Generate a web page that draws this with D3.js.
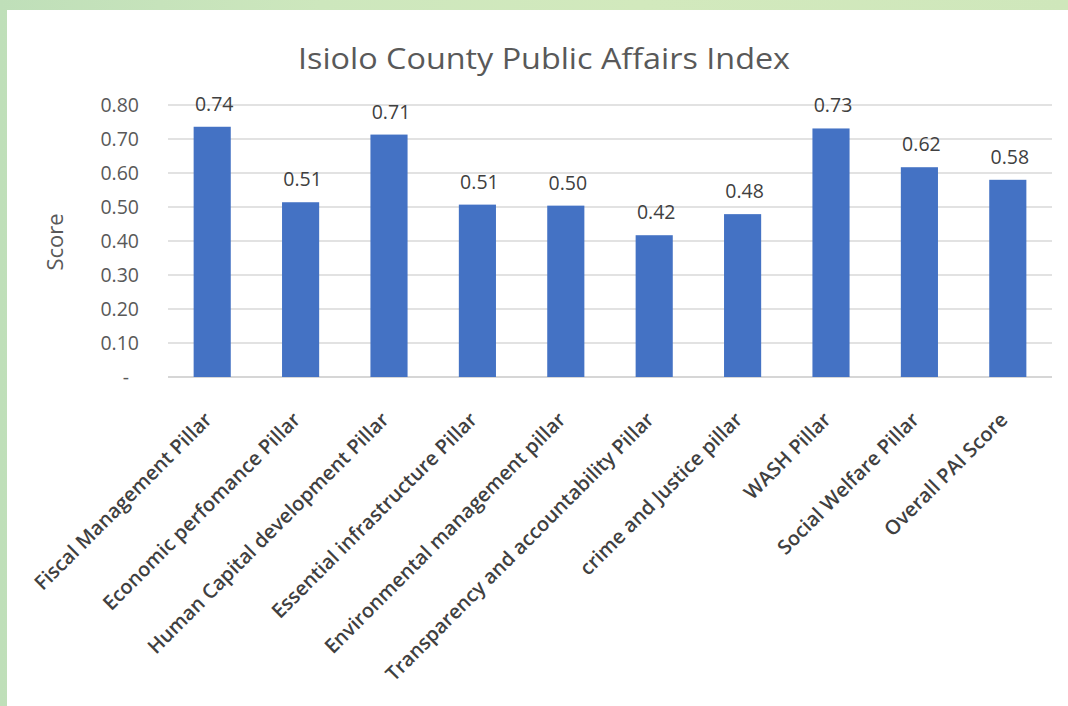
<!DOCTYPE html>
<html>
<head>
<meta charset="utf-8">
<script src="https://cdn.jsdelivr.net/npm/d3@7"></script>
<style>
	html, body { margin:0; padding:0; }
	body { width:1068px; height:706px; overflow:hidden;
		background: linear-gradient(90deg, #bfdfb9 0%, #cde7bd 30%, #d2e9bd 60%, #cfe7bb 100%); }
	svg { display:block; font-family:"Open Sans", sans-serif; }
</style>
</head>
<body>
<svg id="chart" width="1068" height="706"></svg>
<script>
(function(){

	// data
	var pillars = ["Fiscal Management Pillar", "Economic perfomance Pillar", "Human Capital development Pillar",
		"Essential infrastructure Pillar", "Environmental management pillar", "Transparency and accountability Pillar",
		"crime and Justice pillar", "WASH Pillar", "Social Welfare Pillar", "Overall PAI Score"];
	var scores = [0.736, 0.514, 0.713, 0.507, 0.504, 0.417, 0.479, 0.731, 0.617, 0.580];
	var yTicks = [0, 0.1, 0.2, 0.3, 0.4, 0.5, 0.6, 0.7, 0.8];

	var W = 1068, H = 706;
	var M = {left:168, right:16, top:105, bottom:329};

	var svg = d3.select("#chart");

	// white panel
	svg.append("rect").attr("x",7).attr("y",10).attr("width",W-7).attr("height",H-10).attr("fill","#ffffff");

	var x = d3.scaleBand().domain(pillars).range([M.left, W-M.right]).paddingInner(0.58).paddingOuter(0.29);
	var y = d3.scaleLinear().domain([0, 0.8]).range([H-M.bottom, M.top]);

	var fmt = d3.format(".2f");

	// gridlines
	svg.append("g").selectAll("line").data(yTicks).enter().append("line")
		.attr("x1", M.left).attr("x2", W-M.right)
		.attr("y1", function(d){return y(d)}).attr("y2", function(d){return y(d)})
		.attr("stroke", function(d){return d===0 ? "#c8c8c8" : "#d9d9d9"})
		.attr("stroke-width", 1.3);

	// y axis labels
	var yAxis = d3.axisLeft(y).tickValues(yTicks).tickSize(0).tickPadding(0)
		.tickFormat(function(d){return d===0 ? "-" : fmt(d)});
	var ya = svg.append("g").attr("transform","translate(139,0)").call(yAxis);
	ya.select(".domain").remove();
	ya.selectAll("text").attr("fill","#595959").style("font-size","19.5px").style("font-family","'Open Sans', sans-serif")
		.attr("dx", function(d){return d===0 ? "-10px" : 0});

	// bars
	svg.append("g").selectAll("rect").data(scores).enter().append("rect")
		.attr("x", function(d,i){return x(pillars[i])})
		.attr("width", x.bandwidth())
		.attr("y", function(d){return y(d)})
		.attr("height", function(d){return y(0)-y(d)})
		.attr("fill", "#4472c4");

	// value labels
	svg.append("g").selectAll("text").data(scores).enter().append("text")
		.attr("x", function(d,i){return x(pillars[i]) + x.bandwidth()/2 + 2})
		.attr("y", function(d){return y(d) - 16})
		.attr("text-anchor","middle")
		.attr("fill","#404040")
		.style("font-size","19.5px")
		.text(function(d){return fmt(d)});

	// x axis labels
	var xAxis = d3.axisBottom(x).tickSize(0).tickPadding(0);
	var xa = svg.append("g").attr("transform","translate(0," + (H-M.bottom) + ")").call(xAxis);
	xa.select(".domain").remove();
	xa.selectAll("text")
		.attr("y", 0).attr("dy", 0)
		.attr("transform","translate(1,44) rotate(-45)")
		.attr("text-anchor","end")
		.attr("fill","#404040")
		.style("font-size","20px")
		.style("font-weight","600")
		.style("font-family","'Open Sans', sans-serif");

	// y title
	svg.append("text")
		.attr("transform","translate(63,242) rotate(-90)")
		.attr("text-anchor","middle")
		.attr("fill","#595959")
		.style("font-size","22px")
		.text("Score");

	// title
	svg.append("text")
		.attr("x", 544).attr("y", 69)
		.attr("text-anchor","middle")
		.attr("fill","#595959")
		.style("font-size","30px")
		.attr("textLength", 492).attr("lengthAdjust","spacingAndGlyphs")
		.text("Isiolo County Public Affairs Index");

})();
</script>
</body>
</html>
